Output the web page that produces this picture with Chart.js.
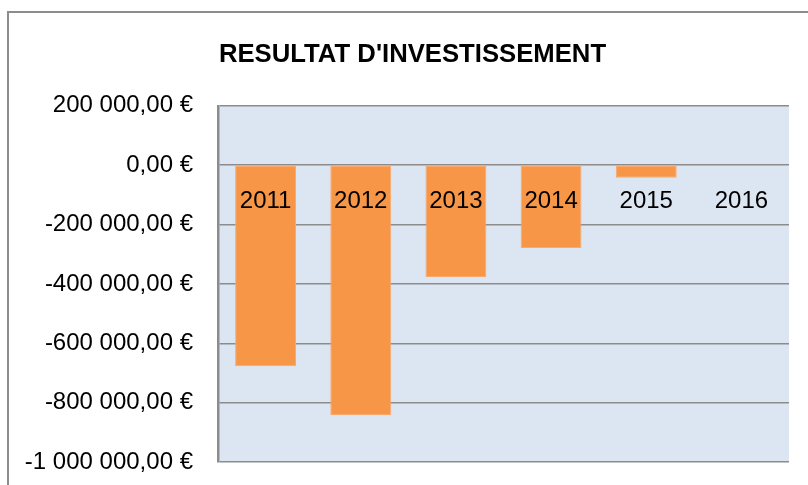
<!DOCTYPE html>
<html>
<head>
<meta charset="utf-8">
<script src="https://cdn.jsdelivr.net/npm/chart.js@4"></script>
<style>
  html, body { margin: 0; padding: 0; background: #fff; }
  #wrap { width: 808px; height: 485px; }
</style>
</head>
<body>
<div id="wrap"><canvas id="myChart" width="808" height="485"></canvas></div>
<script>
var years = ['2011', '2012', '2013', '2014', '2015', '2016'];
var resultat = [-677000, -842000, -377000, -279000, -42000, 0];
var yMin = -1000000;
var yMax = 200000;
var yStep = 200000;

function euro(v) {
    var neg = v < 0;
    var s = Math.abs(Math.round(v)).toString().replace(/\B(?=(\d{3})+(?!\d))/g, ' ');
    return (neg ? '-' : '') + s + ',00 €';
}

// fond de la zone de tracé + cadre extérieur
var decor = {
    id: 'decor',
    beforeDraw: function (chart) {
        var c = chart.ctx, a = chart.chartArea;
        c.save();
        c.fillStyle = '#fff';
        c.fillRect(0, 0, chart.width, chart.height);
        c.strokeStyle = '#8c8c8c';
        c.lineWidth = 2;
        c.beginPath();
        c.moveTo(8, chart.height + 5);
        c.lineTo(8, 12);
        c.lineTo(chart.width + 5, 12);
        c.stroke();
        c.fillStyle = '#dce6f2';
        c.fillRect(a.left, a.top, a.right - a.left, a.bottom - a.top);
        c.restore();
    }
};

var ctx = document.getElementById('myChart').getContext('2d');
var myChart = new Chart(ctx, {
    type: 'bar',
    data: {
        labels: years,
        datasets: [{
            label: 'Résultat',
            data: resultat,
            backgroundColor: '#f79646',
            borderColor: '#f9a86e',
            borderWidth: 1,
            borderSkipped: false,
            categoryPercentage: 0.64,
            barPercentage: 1
        }]
    },
    options: {
        responsive: false,
        animation: false,
        layout: {
            padding: { left: 18, right: 1, top: 0, bottom: 23 }
        },
        plugins: {
            legend: { display: false },
            tooltip: { enabled: false },
            title: {
                display: true,
                text: "RESULTAT D'INVESTISSEMENT",
                color: '#000',
                font: { family: 'Liberation Sans', size: 25.7, weight: 'bold' },
                padding: { top: 39, bottom: 36 }
            }
        },
        scales: {
            x: {
                position: { y: 0 },
                grid: { display: false, drawTicks: false },
                border: { display: false },
                ticks: {
                    z: 1,
                    color: '#000',
                    padding: 22,
                    font: { family: 'Liberation Sans', size: 24 }
                }
            },
            y: {
                min: yMin,
                max: yMax,
                afterFit: function (scale) {
                    scale.width = 200;
                    scale.paddingTop = 0;
                    scale.paddingBottom = 0;
                },
                grid: { color: '#8c8c8c', lineWidth: 1.5, drawTicks: false },
                border: { display: true, color: '#8c8c8c', width: 2.5 },
                ticks: {
                    stepSize: yStep,
                    color: '#000',
                    padding: 25,
                    font: { family: 'Liberation Sans', size: 24 },
                    callback: function (v) { return euro(v); }
                }
            },
            // marge droite vide (équilibre le centrage du titre)
            yRight: {
                position: 'right',
                min: yMin,
                max: yMax,
                grid: { display: false },
                border: { display: false },
                ticks: { display: false },
                afterFit: function (scale) { scale.width = 18; }
            }
        }
    },
    plugins: [decor]
});
</script>
</body>
</html>
